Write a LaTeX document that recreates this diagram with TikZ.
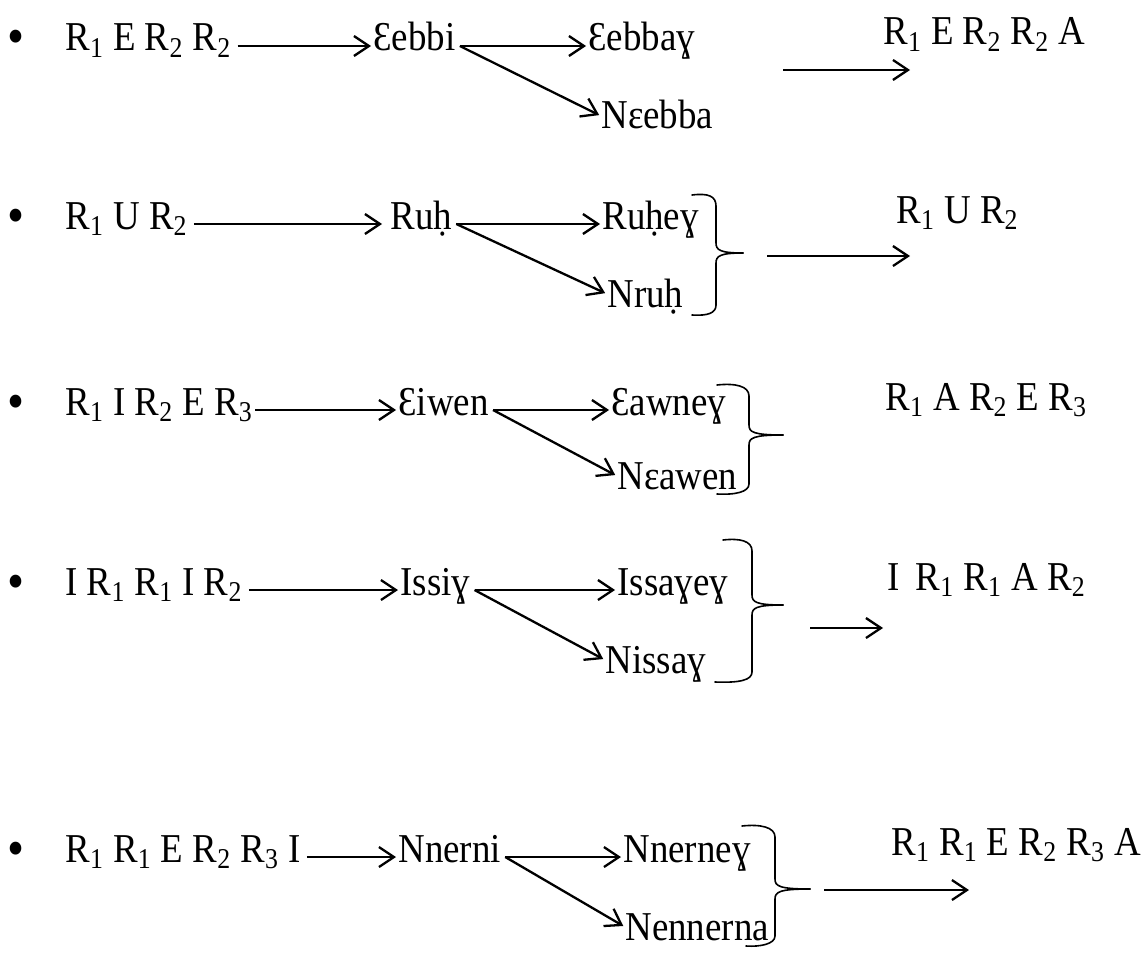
\documentclass[tikz,border=0pt]{standalone}
\usepackage{fontspec}
\setmainfont{Liberation Serif}[FakeStretch=0.9]
\usetikzlibrary{arrows.meta}
\tikzset{word/.style={anchor=west, inner sep=0pt, text height=0.72em, text depth=0.22em,
   font=\fontsize{20.5}{24}\selectfont},
 dot/.style={word, font=\fontsize{27}{30}\selectfont},
 arr/.style={draw, line width=1.15pt, shorten >=1pt, -{Straight Barb[length=7.5pt,width=10pt]}},
 brace/.style={draw, line width=0.8pt, line join=round, line cap=round},
 }

\begin{document}
\begin{tikzpicture}[x=0.5pt, y=-0.5pt]
        \useasboundingbox (0,0) rectangle (1143,952);
        \node[dot] (dot1) at (7,50) {•};
        \node[word] (src1) at (65,46) {R\textsubscript{1} E R\textsubscript{2} R\textsubscript{2}};
        \node[word] (mid1) at (373,46) {Ɛebbi};
        \node[word] (top1) at (588,46) {Ɛebbaɣ};
        \node[word] (low1) at (601,124) {Nɛebba};
        \node[word] (res1) at (883,40) {R\textsubscript{1} E R\textsubscript{2} R\textsubscript{2} A};
        \coordinate (in1) at (783,70);
        \coordinate (out1) at (912,70);
        \draw[arr] ([xshift=3pt]src1.east) -- (mid1.west);
        \draw[arr] ([xshift=2pt]mid1.east) -- (top1.west);
        \draw[arr] ([xshift=2pt]mid1.east) -- ([yshift=4pt]low1.west);
        \draw[arr] (in1) -- (out1);

        \node[dot] (dot2) at (7,228) {•};
        \node[word] (src2) at (65,224) {R\textsubscript{1} U R\textsubscript{2}};
        \node[word] (mid2) at (390,224) {Ruḥ};
        \node[word] (top2) at (602,224) {Ruḥeɣ};
        \node[word] (low2) at (607,302) {Nruḥ};
        \node[word] (res2) at (896,218) {R\textsubscript{1} U R\textsubscript{2}};
        \coordinate (in2) at (767,256);
        \coordinate (out2) at (912,256);
        \draw[arr, shorten >=4pt] ([xshift=3pt]src2.east) -- (mid2.west);
        \draw[arr] ([xshift=2pt]mid2.east) -- (top2.west);
        \draw[arr] ([xshift=2pt]mid2.east) -- ([yshift=4pt]low2.west);
        \draw[brace] (692,195) .. controls (708,193) and (716,196) .. (716,206) -- (716,243)
            .. controls (716,250) and (720,253) .. (743,253);
        \draw[brace] (743,253) .. controls (720,253) and (716,256) .. (716,263) -- (716,305)
            .. controls (716,313) and (708,316) .. (692,315);
        \draw[arr] (in2) -- (out2);

        \node[dot] (dot3) at (7,414) {•};
        \node[word] (src3) at (65,410) {R\textsubscript{1} I R\textsubscript{2} E R\textsubscript{3}};
        \node[word] (mid3) at (398,410) {Ɛiwen};
        \node[word] (top3) at (611,410) {Ɛawneɣ};
        \node[word] (low3) at (617,484) {Nɛawen};
        \node[word] (res3) at (885,405) {R\textsubscript{1} A R\textsubscript{2} E R\textsubscript{3}};
        \draw[arr] ([xshift=1pt]src3.east) -- (mid3.west);
        \draw[arr] ([xshift=2pt]mid3.east) -- (top3.west);
        \draw[arr] ([xshift=2pt]mid3.east) -- ([yshift=4pt]low3.west);
        \draw[brace] (717,385) .. controls (735,383) and (749,386) .. (749,396) -- (749,425)
            .. controls (749,432) and (753,435) .. (783,435);
        \draw[brace] (783,435) .. controls (753,435) and (749,438) .. (749,445) -- (749,484)
            .. controls (749,492) and (735,495) .. (717,494);

        \node[dot] (dot4) at (7,594) {•};
        \node[word] (src4) at (65,590) {I R\textsubscript{1} R\textsubscript{1} I R\textsubscript{2}};
        \node[word] (mid4) at (400,590) {Issiɣ};
        \node[word] (top4) at (617,590) {Issaɣeɣ};
        \node[word] (low4) at (605,668) {Nissaɣ};
        \node[word] (res4) at (887,585) {I\, R\textsubscript{1} R\textsubscript{1} A R\textsubscript{2}};
        \coordinate (in4) at (810,628);
        \coordinate (out4) at (885,628);
        \draw[arr] ([xshift=3pt]src4.east) -- (mid4.west);
        \draw[arr] ([xshift=2pt]mid4.east) -- (top4.west);
        \draw[arr] ([xshift=2pt]mid4.east) -- ([yshift=4pt]low4.west);
        \draw[brace] (723,540) .. controls (740,538) and (752,541) .. (752,551) -- (752,595)
            .. controls (752,602) and (756,605) .. (783,605);
        \draw[brace] (783,605) .. controls (756,605) and (752,608) .. (752,615) -- (752,672)
            .. controls (752,680) and (740,683) .. (715,682);
        \draw[arr] (in4) -- (out4);

        \node[dot] (dot5) at (7,861) {•};
        \node[word] (src5) at (65,857) {R\textsubscript{1} R\textsubscript{1} E R\textsubscript{2} R\textsubscript{3} I};
        \node[word] (mid5) at (398,857) {Nnerni};
        \node[word] (top5) at (623,857) {Nnerneɣ};
        \node[word] (low5) at (625,935) {Nennerna};
        \node[word] (res5) at (891,850) {R\textsubscript{1} R\textsubscript{1} E R\textsubscript{2} R\textsubscript{3} A};
        \coordinate (in5) at (824,890);
        \coordinate (out5) at (971,890);
        \draw[arr] ([xshift=3pt]src5.east) -- (mid5.west);
        \draw[arr] ([xshift=2pt]mid5.east) -- (top5.west);
        \draw[arr] ([xshift=2pt]mid5.east) -- ([yshift=4pt]low5.west);
        \draw[brace] (742,826) .. controls (760,824) and (775,827) .. (775,837) -- (775,879)
            .. controls (775,886) and (779,889) .. (810,889);
        \draw[brace] (810,889) .. controls (779,889) and (775,892) .. (775,899) -- (775,936)
            .. controls (775,944) and (760,947) .. (746,946);
        \draw[arr] (in5) -- (out5);
    \end{tikzpicture}
\end{document}
